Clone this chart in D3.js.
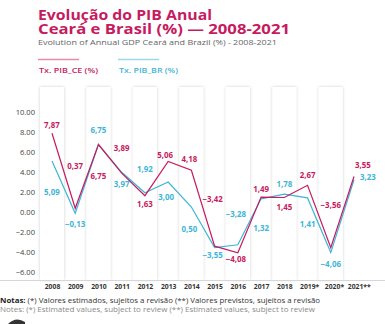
<!DOCTYPE html>
<html>
<head>
<meta charset="utf-8">
<script src="https://d3js.org/d3.v7.min.js"></script>
<style>
	body { margin: 0; background: #fff; }
	svg { display: block; font-family: "Open Sans", sans-serif; }
</style>
</head>
<body>
<script>
	// PIB anual (%) Ceará x Brasil
	var years = ["2008","2009","2010","2011","2012","2013","2014","2015","2016","2017","2018","2019","2020","2021"];
	var yearLabels = ["2008","2009","2010","2011","2012","2013","2014","2015","2016","2017","2018","2019*","2020*","2021**"];
	var pibCE = [7.87, 0.37, 6.75, 3.89, 1.63, 5.06, 4.18, -3.42, -4.08, 1.49, 1.45, 2.67, -3.56, 3.55];
	var pibBR = [5.09, -0.13, 6.75, 3.97, 1.92, 3.00, 0.50, -3.55, -3.28, 1.32, 1.78, 1.41, -4.06, 3.23];
	var yTicks = [-6, -4, -2, 0, 2, 4, 6, 8, 10];

	// label placement (px from the point)
	var ceDy = [-5, -39, 34, -22, 11, -3, -8, -44, 9, -5, 12, -7, -40, -9];
	var ceDx = [0, 0, 0, 0, 0, -3, -2, -2, -2, 0, 0, 0, 0, 9];
	var brDy = [34, 14, -12, 15, -21, 18, 25, 10, -28, 32, -7, 29, 14, 0];
	var brDx = [0, 0, 0, 0, 0, -2, -2, -2, -2, 0, 0, 0, 0, 14];

	var pink = "#c61b5f";
	var blue = "#3fb5d8";
	var w = 385, h = 324;

	var svg = d3.select("body").append("svg").attr("width", w).attr("height", h);

	var defs = svg.append("defs");
	var f = defs.append("filter").attr("id", "shadow")
		.attr("x", "-30%").attr("y", "-5%").attr("width", "160%").attr("height", "110%");
	f.append("feDropShadow").attr("dx", 0).attr("dy", 0).attr("stdDeviation", 1.6)
		.attr("flood-color", "#000").attr("flood-opacity", 0.2);

	// title, two lines in one block
	var title = svg.append("text").attr("fill", pink).attr("font-weight", 700).attr("font-size", 14.2);
	title.append("tspan").attr("x", 38).attr("y", 20).text("Evolução do PIB Anual")
		.attr("textLength", 174).attr("lengthAdjust", "spacingAndGlyphs");
	title.append("tspan").attr("x", 38).attr("y", 33.5).text("Ceará e Brasil (%) — 2008-2021")
		.attr("textLength", 252).attr("lengthAdjust", "spacingAndGlyphs");
	svg.append("text").attr("x", 38).attr("y", 45).text("Evolution of Annual GDP Ceará and Brazil (%) - 2008-2021")
		.attr("fill", "#666").attr("font-size", 7.4)
		.attr("textLength", 239).attr("lengthAdjust", "spacingAndGlyphs");

	// legend
	var legend = [{name: "Tx. PIB_CE (%)", color: pink, line: "#e58bab", x: 38},
		{name: "Tx. PIB_BR (%)", color: blue, line: "#9bd8ec", x: 118}];
	legend.forEach(function(d){
		svg.append("line").attr("x1", d.x).attr("x2", d.x + 41).attr("y1", 59.5).attr("y2", 59.5)
			.attr("stroke", d.line).attr("stroke-width", 1.5);
		svg.append("text").attr("x", d.x + 1).attr("y", 73).text(d.name)
			.attr("fill", d.color).attr("font-size", 7.4).attr("font-weight", 600)
			.attr("textLength", 59).attr("lengthAdjust", "spacingAndGlyphs");
	});

	var xScale = d3.scalePoint().domain(years).range([52, 354]);
	var yScale = d3.scaleLinear().domain([-6.8, 12.5]).range([280, 87]);
	var bandW = 24;

	// alternating columns
	svg.append("g").selectAll("rect")
		.data(years.filter(function(d, i){ return i % 2 == 0; }))
		.enter().append("rect")
		.attr("x", function(d){ return xScale(d) - bandW / 2; })
		.attr("y", yScale(12.5))
		.attr("width", bandW)
		.attr("height", yScale(-6.8) - yScale(12.5))
		.attr("fill", "#fff")
		.attr("filter", "url(#shadow)");

	// base line
	svg.append("line").attr("x1", 0).attr("x2", w).attr("y1", 280.5).attr("y2", 280.5)
		.attr("stroke", "#d6d6d6").attr("stroke-width", 1);

	// y axis
	var yAxis = svg.append("g").attr("transform", "translate(35,0)")
		.call(d3.axisLeft(yScale).tickValues(yTicks).tickSize(0).tickPadding(0)
			.tickFormat(d3.format(".2f")));
	yAxis.select(".domain").remove();
	yAxis.selectAll("text").attr("fill", "#444").attr("font-size", 7.6)
		.attr("font-family", "Open Sans, sans-serif");

	// x axis
	var xAxis = svg.append("g").attr("transform", "translate(0,280)")
		.call(d3.axisBottom(xScale).tickSize(0).tickPadding(4.5)
			.tickFormat(function(d, i){ return yearLabels[i]; }));
	xAxis.select(".domain").remove();
	xAxis.selectAll("text").attr("fill", "#333").attr("font-size", 6.8).attr("font-weight", 700)
		.attr("font-family", "Open Sans, sans-serif");
	// starred years sit a little to the right
	xAxis.selectAll(".tick text").attr("dx", function(d, i){ return i > 10 ? (i - 10) * 1.6 : 0; });

	var line = d3.line()
		.x(function(d, i){ return xScale(years[i]); })
		.y(function(d){ return yScale(d); });

	var series = [{values: pibBR, color: blue, dx: brDx, dy: brDy},
		{values: pibCE, color: pink, dx: ceDx, dy: ceDy}];

	series.forEach(function(s){
		svg.append("path").datum(s.values)
			.attr("d", line)
			.attr("fill", "none")
			.attr("stroke", s.color)
			.attr("stroke-width", 1.2)
			.attr("stroke-linejoin", "miter");
	});

	series.forEach(function(s){
		svg.append("g").selectAll("text")
			.data(s.values)
			.enter().append("text")
			.attr("x", function(d, i){ return xScale(years[i]) + s.dx[i]; })
			.attr("y", function(d, i){ return yScale(d) + s.dy[i]; })
			.attr("text-anchor", "middle")
			.attr("fill", s.color)
			.attr("font-size", 7.9)
			.attr("font-weight", 700)
			.text(function(d){ return d3.format(".2f")(d).replace(".", ","); });
	});

	// notes
	var n1 = svg.append("text").attr("x", 0).attr("y", 302.5).attr("font-size", 7.4).attr("fill", "#333")
		.attr("textLength", 320).attr("lengthAdjust", "spacingAndGlyphs");
	n1.append("tspan").attr("font-weight", 700).attr("fill", "#222").text("Notas:");
	n1.append("tspan").text(" (*) Valores estimados, sujeitos a revisão (**) Valores previstos, sujeitos a revisão");
	svg.append("text").attr("x", 0).attr("y", 311.5).attr("font-size", 7.4).attr("fill", "#8a8a8a")
		.attr("textLength", 315).attr("lengthAdjust", "spacingAndGlyphs")
		.text("Notes: (*) Estimated values, subject to review (**) Estimated values, subject to review");

	// logo edge at the bottom
	svg.append("path").attr("d", "M8,324 Q16,316 25,322 L25,324 Z").attr("fill", "#333");
</script>
</body>
</html>
